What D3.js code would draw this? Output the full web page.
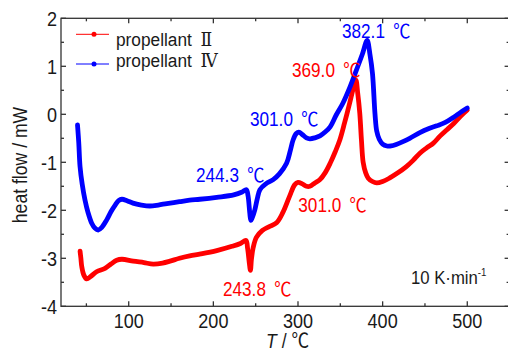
<!DOCTYPE html>
<html>
<head>
<meta charset="utf-8">
<script src="https://cdn.jsdelivr.net/npm/d3@7"></script>
<style>
    body { margin: 0; background: #fff; }
    svg text { font-family: "Liberation Sans", Arial, sans-serif; fill: #1a1a1a; }
</style>
</head>
<body>
<svg id="dscSvg" width="508" height="352"></svg>
<script>
// temperature (°C) / heat flow (mW)
const tempIV = [39.5, 41, 42.5, 45, 48.4, 52, 56.3, 60, 64, 68, 74, 79, 84, 88, 92, 98, 105, 115, 125, 135, 145, 160, 172, 184, 204, 224, 234, 239, 241, 243, 244.3, 246, 249, 252, 255, 262, 270.7, 278, 286.5, 291, 294.3, 298, 301, 305, 310, 314, 320, 326, 332, 338, 345, 353, 361, 369, 376, 381.7, 385, 388, 391, 393, 396, 400, 405, 410, 416, 424, 432, 444, 454, 464, 474, 484, 492, 500];
const flowIV = [-0.22, -0.6, -1.09, -1.45, -1.79, -2.05, -2.27, -2.37, -2.41, -2.36, -2.2, -2.03, -1.89, -1.8, -1.77, -1.8, -1.85, -1.89, -1.91, -1.89, -1.86, -1.82, -1.79, -1.77, -1.73, -1.68, -1.62, -1.57, -1.7, -2.05, -2.21, -2.15, -1.99, -1.75, -1.57, -1.45, -1.36, -1.24, -1.02, -0.75, -0.53, -0.4, -0.37, -0.42, -0.49, -0.51, -0.49, -0.45, -0.37, -0.26, -0.02, 0.23, 0.55, 0.92, 1.25, 1.54, 1.25, 0.85, 0.0, -0.35, -0.52, -0.62, -0.66, -0.66, -0.63, -0.57, -0.5, -0.38, -0.3, -0.24, -0.17, -0.06, 0.04, 0.13];

const tempII = [42.5, 43.5, 44.5, 47, 50.4, 55, 62, 72, 79, 85.8, 92, 105.4, 118, 129, 140, 148.8, 160, 172, 185, 204, 222, 232, 238.5, 240.5, 242.5, 243.8, 245, 247, 251, 258, 266, 274.7, 282, 290, 296, 300, 305, 310, 314, 320, 326, 332, 338, 344, 349.5, 355, 361, 365, 368.4, 370.5, 373, 375, 377, 380, 383, 388, 393, 400, 408, 418, 428, 436, 444, 452, 460, 468, 476, 484, 492, 500];
const flowII = [-2.85, -3.0, -3.17, -3.35, -3.43, -3.38, -3.28, -3.21, -3.12, -3.04, -3.02, -3.06, -3.09, -3.12, -3.1, -3.06, -3.0, -2.95, -2.91, -2.84, -2.75, -2.69, -2.63, -2.8, -3.1, -3.25, -3.02, -2.78, -2.56, -2.42, -2.34, -2.26, -2.05, -1.71, -1.47, -1.42, -1.45, -1.5, -1.5, -1.43, -1.36, -1.22, -1.02, -0.78, -0.53, -0.18, 0.23, 0.52, 0.71, 0.45, 0.02, -0.55, -1.0, -1.22, -1.33, -1.4, -1.43, -1.4, -1.33, -1.22, -1.09, -0.96, -0.81, -0.7, -0.6, -0.45, -0.32, -0.19, -0.04, 0.09];

const seriesNames = ["propellant ", "propellant "];
const seriesNumerals = ["Ⅱ", "Ⅳ"];
const seriesColors = ["#ff0000", "#0000ff"];

const xTicks = [100, 200, 300, 400, 500];
const yTicks = [-4, -3, -2, -1, 0, 1, 2];

// peak annotations: [temperature, label, series index]
const peakLabels = [
    [244.3, "244.3", 1], [301.0, "301.0", 1], [382.1, "382.1", 1],
    [369.0, "369.0", 0], [301.0, "301.0", 0], [243.8, "243.8", 0]
];

const svg = d3.select("#dscSvg");
const x = d3.scaleLinear().domain([20, 550]).range([61, 509.6]);
const y = d3.scaleLinear().domain([-4, 2]).range([306.3, 18.3]);

// text is slightly condensed in the original figure
function label(g, px, py, size, k, str) {
    return g.append("text")
        .attr("transform", `translate(${px},${py}) scale(${k},1)`)
        .style("font-size", size + "px")
        .text(str);
}

function drawAxes() {
    const frame = svg.append("g").attr("stroke", "#333").attr("stroke-width", 1.3);
    frame.append("rect")
        .attr("x", x.range()[0]).attr("y", y.range()[1])
        .attr("width", x.range()[1] - x.range()[0])
        .attr("height", y.range()[0] - y.range()[1])
        .attr("fill", "none");

    const xMinor = d3.range(50, 551, 100);
    const yMinor = d3.range(-3.5, 2, 1);
    const ticks = [];
    xTicks.forEach(t => ticks.push({ v: t, len: 5, axis: "x" }));
    xMinor.forEach(t => ticks.push({ v: t, len: 3, axis: "x" }));
    yTicks.forEach(t => ticks.push({ v: t, len: 5, axis: "y" }));
    yMinor.forEach(t => ticks.push({ v: t, len: 3, axis: "y" }));

    ticks.forEach(t => {
        if (t.axis === "x") {
            const px = x(t.v);
            frame.append("line").attr("x1", px).attr("x2", px)
                .attr("y1", y.range()[0]).attr("y2", y.range()[0] - t.len);
            frame.append("line").attr("x1", px).attr("x2", px)
                .attr("y1", y.range()[1]).attr("y2", y.range()[1] + t.len);
        } else {
            const py = y(t.v);
            frame.append("line").attr("y1", py).attr("y2", py)
                .attr("x1", x.range()[0]).attr("x2", x.range()[0] + t.len);
            frame.append("line").attr("y1", py).attr("y2", py)
                .attr("x1", x.range()[1]).attr("x2", x.range()[1] - t.len);
        }
    });

    const labels = svg.append("g");
    xTicks.forEach(t => {
        label(labels, x(t), 327.5, 21, 0.86, t).attr("text-anchor", "middle");
    });
    yTicks.forEach(t => {
        label(labels, 57, y(t) + 7.5, 21, 0.86, t).attr("text-anchor", "end");
    });

    const xt = labels.append("text")
        .attr("transform", "translate(266,347.5) scale(0.88,1)")
        .style("font-size", "20px");
    xt.append("tspan").style("font-style", "italic").text("T");
    xt.append("tspan").text(" / ");
    xt.append("tspan").style("font-family", "'Noto Sans CJK SC'").text("℃");

    labels.append("text")
        .attr("transform", "translate(26.5,165) rotate(-90) scale(0.88,1)")
        .attr("text-anchor", "middle")
        .style("font-size", "20px")
        .text("heat flow / mW");
}

function drawCurves() {
    const line = d3.line()
        .x(d => x(d[0]))
        .y(d => y(d[1]))
        .curve(d3.curveCatmullRom.alpha(0.5));

    const curves = [d3.zip(tempII, flowII), d3.zip(tempIV, flowIV)];
    svg.append("g").selectAll("path")
        .data(curves)
        .join("path")
        .attr("d", line)
        .attr("fill", "none")
        .attr("stroke", (d, i) => seriesColors[i])
        .attr("stroke-width", 4.8)
        .attr("stroke-linejoin", "round")
        .attr("stroke-linecap", "round");
}

function drawLegend() {
    const legendY = [34.3, 64];
    const textY = [45.5, 67];
    const lg = svg.append("g");
    seriesNames.forEach((name, i) => {
        lg.append("line")
            .attr("x1", 76).attr("x2", 109)
            .attr("y1", legendY[i]).attr("y2", legendY[i])
            .attr("stroke", seriesColors[i]).attr("stroke-width", 1);
        lg.append("circle")
            .attr("cx", 94).attr("cy", legendY[i]).attr("r", 2.5)
            .attr("fill", seriesColors[i]);
        const t = lg.append("text")
            .attr("transform", `translate(116,${textY[i]}) scale(0.96,1)`)
            .style("font-size", "18px");
        t.append("tspan").text(name);
        t.append("tspan")
            .style("font-family", "'DejaVu Serif', 'Liberation Serif', serif")
            .attr("dx", 4)
            .text(seriesNumerals[i]);
    });
}

function drawAnnotations() {
    // label anchor (left x, baseline y) for each peak label
    const anchors = [[196, 181.7], [250, 126], [342, 38], [292, 77.3], [298.3, 211.7], [223, 296]];
    const ag = svg.append("g");
    peakLabels.forEach((p, i) => {
        const t = ag.append("text")
            .attr("transform", `translate(${anchors[i][0]},${anchors[i][1]}) scale(0.88,1)`)
            .style("font-size", "19.5px")
            .style("fill", seriesColors[p[2]]);
        t.append("tspan").text(p[1] + " ");
        t.append("tspan").style("font-family", "'Noto Sans CJK SC'").attr("dx", 4).text("℃");
    });

    const rate = ag.append("text")
        .attr("transform", "translate(411,284.3) scale(0.88,1)")
        .style("font-size", "19px");
    rate.append("tspan").text("10 K·min");
    rate.append("tspan").attr("dy", -8).style("font-size", "11px").text("-1");
}

drawAxes();
drawCurves();
drawLegend();
drawAnnotations();
</script>
</body>
</html>
